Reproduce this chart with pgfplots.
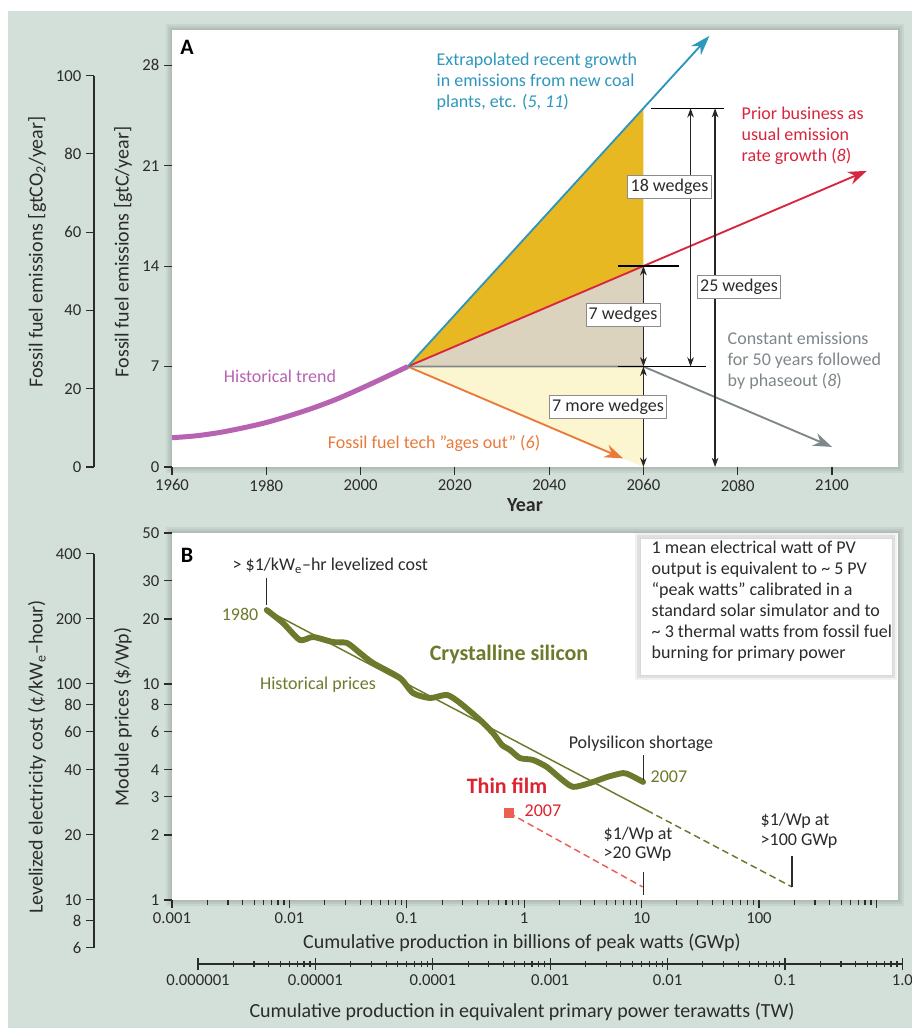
\documentclass[border=0pt]{standalone}
\usepackage{fontspec}
\setmainfont{Carlito}
\usepackage{pgfplots}
\pgfplotsset{compat=1.18}
\usetikzlibrary{arrows.meta}

\definecolor{bgc}{HTML}{D3E0DA}
\definecolor{ctext}{HTML}{2B2B2B}
\definecolor{cblue}{HTML}{2E97BD}
\definecolor{cred}{HTML}{D7263D}
\definecolor{cgray}{HTML}{7F878B}
\definecolor{corange}{HTML}{EA7A3C}
\definecolor{cpurple}{HTML}{B863B2}
\definecolor{cgold}{HTML}{E7B822}
\definecolor{cbeige}{HTML}{DCD3BF}
\definecolor{cpale}{HTML}{FCF6D0}
\definecolor{colive}{HTML}{6C7A2C}
\definecolor{cfilm}{HTML}{EC5F53}
\definecolor{cfilmtxt}{HTML}{DC2430}

\newcommand\ft{\fontsize{12.5}{14}\selectfont}
\newcommand\fa{\fontsize{13.5}{15}\selectfont}
\newcommand\fl{\fontsize{15}{17}\selectfont}
\newcommand\fb{\fontsize{16.5}{18}\selectfont\bfseries}

\pgfplotsset{
  every axis/.append style={
    tick label style={font=\ft, text=ctext},
    tick style={ctext, line width=0.8pt},
    major tick length=6pt, minor tick length=3.5pt},
  panel/.style={scale only axis, anchor=south west, axis line style={draw=none},
    tick align=outside, xtick pos=left, ytick pos=left,
    axis background/.style={fill=white,
      preaction={draw=black, opacity=0.05, line width=9pt},
      preaction={draw=black, opacity=0.05, line width=6pt},
      preaction={draw=black, opacity=0.06, line width=3pt}}},
  spine/.style={scale only axis, anchor=south west, tick align=outside,
    axis line style={ctext, line width=0.8pt, -}},
}
\tikzset{
  wbox/.style={draw=black!45, line width=0.7pt, fill=white, inner xsep=2pt, inner ysep=2.5pt, font=\fa, text=ctext},
  dim/.style={black, line width=0.9pt},
  dimarr/.style={black!85, line width=0.9pt, {Stealth[length=7pt,width=5pt]}-{Stealth[length=7pt,width=5pt]}},
  px/.style={x=0.75pt, y=-0.75pt},
}

\begin{document}
\begin{tikzpicture}
\begin{scope}[px]
\fill[white] (0,0) rectangle (912,1028);
\fill[bgc] (8,11) rectangle (912,1028);
\end{scope}

% ---------------- Panel A ----------------
\begin{axis}[panel, at={(129pt,-350.25pt)}, width=544.5pt, height=327.75pt,
  xmin=1960, xmax=2114, ymin=0, ymax=30.45,
  xtick={1960,1980,...,2100}, xticklabels={1960,1980,2000,2020,2040,2060,2080,2100},
  ytick={0,7,14,21,28}, yticklabels={0,7,14,21,28}]
\addplot[fill=cpale, draw=none] coordinates {(2010,7) (2060,7) (2060,0)} -- cycle;
\addplot[fill=cbeige, draw=none] coordinates {(2010,7) (2060,14) (2060,7)} -- cycle;
\addplot[fill=cgold, draw=none] coordinates {(2010,7) (2060,25) (2060,14)} -- cycle;
\addplot[cgray, line width=1.4pt, -{Stealth[length=14pt,width=10pt]}] coordinates {(2010,7) (2060,7) (2100,1.4)};
\addplot[corange, line width=1.4pt, -{Stealth[length=14pt,width=10pt]}] coordinates {(2010,7) (2055.7,0.6)};
\addplot[cred, line width=1.4pt, -{Stealth[length=14pt,width=10pt]}] coordinates {(2010,7) (2107.4,20.64)};
\addplot[cblue, line width=1.4pt, -{Stealth[length=15pt,width=10pt]}] coordinates {(2010,7) (2074,30.04)};
\addplot[cpurple, line width=3.75pt, smooth] coordinates {
  (1960,2.04) (1965,2.17) (1970,2.40) (1975,2.72) (1980,3.10) (1985,3.58)
  (1990,4.12) (1995,4.74) (2000,5.46) (2005,6.22) (2010,7.0)};
% wedge dimension lines
\draw[dim] (axis cs:2061.6,25) -- (axis cs:2077,25);
\draw[dim] (axis cs:2054.6,14) -- (axis cs:2067.5,14);
\draw[dim] (axis cs:2054.6,7) -- (axis cs:2073.3,7);
\draw[dimarr] (axis cs:2070,25) -- (axis cs:2070,7);
\draw[dimarr] (axis cs:2075.2,25) -- (axis cs:2075.2,0);
\draw[dimarr] (axis cs:2060,14) -- (axis cs:2060,7);
\draw[dimarr] (axis cs:2060,7) -- (axis cs:2060,0);
\end{axis}

% gtCO2 spine
\begin{axis}[spine, at={(70.5pt,-350.25pt)}, width=1pt, height=293.5pt,
  xmin=0, xmax=1, ymin=0, ymax=100, axis x line=none, axis y line*=left,
  ytick={0,20,...,100}, yticklabels={0,20,40,60,80,100}]
\end{axis}

% ---------------- Panel B ----------------
\begin{axis}[panel, at={(129pt,-675pt)}, width=544.5pt, height=275.25pt,
  xmode=log, ymode=log, xmin=0.001, xmax=1528, ymin=1, ymax=50,
  xtick={0.001,0.01,0.1,1,10,100,1000}, xticklabels={0.001,0.01,0.1,1,10,100,{}},
  minor xtick={0.002,0.003,0.004,0.005,0.006,0.007,0.008,0.009,
    0.02,0.03,0.04,0.05,0.06,0.07,0.08,0.09,0.2,0.3,0.4,0.5,0.6,0.7,0.8,0.9,
    2,3,4,5,6,7,8,9,20,30,40,50,60,70,80,90,200,300,400,500,600,700,800,900},
  ytick={1,2,3,4,6,8,10,20,30,50}, yticklabels={1,2,3,4,6,8,10,20,30,50}]
% learning-curve trend
\addplot[colive, line width=1.1pt] coordinates {(0.00641,22.0) (11.1,2.60)};
\addplot[colive, line width=1.1pt, dash pattern=on 5pt off 3pt] coordinates {(11.1,2.60) (191,1.15)};
% crystalline silicon history
\addplot[colive, line width=4.4pt, line join=round, line cap=round, smooth, tension=0.4] coordinates {
  (0.00641,22.0) (0.00882,19.16) (0.0123,15.98) (0.0159,16.51) (0.0235,15.64)
  (0.0310,15.48) (0.0399,13.92) (0.0515,12.51) (0.0875,10.66) (0.113,9.08)
  (0.158,8.61) (0.220,8.90) (0.284,8.17) (0.421,6.81) (0.542,5.93) (0.647,5.22)
  (0.757,4.95) (0.921,4.54) (1.19,4.45) (1.56,4.13) (2.02,3.67) (2.60,3.34)
  (3.63,3.48) (5.07,3.71) (6.94,3.87) (7.96,3.79) (10.3,3.52)};
% thin film
\addplot[cfilm, line width=1.1pt, dash pattern=on 5pt off 3pt] coordinates {(0.742,2.53) (10.2,1.15)};
\addplot[cfilm, only marks, mark=square*, mark size=3.4pt] coordinates {(0.742,2.53)};
% leader lines
\draw[ctext, line width=0.8pt] (axis cs:0.0064,31) -- (axis cs:0.0064,23.3);
\draw[ctext, line width=0.8pt] (axis cs:10.3,4.69) -- (axis cs:10.3,3.6);
\draw[ctext, line width=0.8pt] (axis cs:10.3,1.35) -- (axis cs:10.3,1.055);
\draw[ctext, line width=0.8pt] (axis cs:191,1.6) -- (axis cs:191,1.15);
\end{axis}

% levelized cost spine
\begin{axis}[spine, at={(70.5pt,-710.9pt)}, width=1pt, height=295.5pt,
  xmin=0, xmax=1, ymode=log, ymin=6, ymax=400, axis x line=none, axis y line*=left,
  ytick={6,8,10,20,40,60,80,100,200,400}, yticklabels={6,8,10,20,40,60,80,100,200,400}]
\end{axis}

% TW spine
\begin{axis}[spine, at={(148.5pt,-723pt)}, width=528.3pt, height=1pt, tick align=center,
  major tick length=9pt, minor tick length=5pt,
  xmode=log, xmin=1e-6, xmax=1, ymin=0, ymax=1, axis y line=none, axis x line*=bottom,
  xtick={1e-6,1e-5,1e-4,1e-3,1e-2,1e-1,1},
  xticklabels={0.000001,0.00001,0.0001,0.001,0.01,0.1,1.0},
  minor xtick={2e-6,3e-6,4e-6,5e-6,6e-6,7e-6,8e-6,9e-6,2e-5,3e-5,4e-5,5e-5,6e-5,7e-5,8e-5,9e-5,
    2e-4,3e-4,4e-4,5e-4,6e-4,7e-4,8e-4,9e-4,2e-3,3e-3,4e-3,5e-3,6e-3,7e-3,8e-3,9e-3,
    2e-2,3e-2,4e-2,5e-2,6e-2,7e-2,8e-2,9e-2,0.2,0.3,0.4,0.5,0.6,0.7,0.8,0.9}]
\end{axis}

\begin{scope}[px]
% ---------------- annotations A ----------------
\node[font=\fb, text=black] at (187,47) {A};
\begin{scope}[every node/.style={font=\fa, anchor=mid west}]
\node[text=cblue] at (432,62) {Extrapolated recent growth};
\node[text=cblue] at (432,83) {in emissions from new coal};
\node[text=cblue] at (432,104) {plants, etc. (\textit{5}, \textit{11})};
\node[text=cred] at (737,116) {Prior business as};
\node[text=cred] at (737,137) {usual emission};
\node[text=cred] at (737,158) {rate growth (\textit{8})};
\node[text=cgray] at (723,341) {Constant emissions};
\node[text=cgray] at (723,362) {for 50 years followed};
\node[text=cgray] at (723,383) {by phaseout (\textit{8})};
\node[text=cpurple, anchor=mid] at (280,379) {Historical trend};
\node[text=corange, anchor=mid] at (434,445) {Fossil fuel tech ”ages out” (\textit{6})};
\end{scope}
\node[wbox] at (669.5,187) {18 wedges};
\node[wbox] at (739,287) {25 wedges};
\node[wbox] at (623,315) {7 wedges};
\node[wbox] at (608,407) {7 more wedges};
\node[font=\fl, text=ctext, rotate=90] at (37,252) {Fossil fuel emissions [gtCO\textsubscript{2}/year]};
\node[font=\fl, text=ctext, rotate=90] at (123,252) {Fossil fuel emissions [gtC/year]};
\node[font=\fl\bfseries, text=ctext] at (525,505) {Year};

% ---------------- annotations B ----------------
\node[font=\fb, text=black] at (187,555) {B};
\begin{scope}[every node/.style={font=\fa, anchor=mid west, text=ctext}]
\node at (228,567) {> \$1/kW\textsubscript{e}–hr levelized cost};
\node[text=colive, anchor=mid east] at (263,617) {1980};
\node[text=colive, anchor=mid] at (318,686) {Historical prices};
\node[text=colive, anchor=mid, font=\fb] at (509,657) {Crystalline silicon};
\node[anchor=mid] at (641,745) {Polysilicon shortage};
\node[text=colive] at (646,779) {2007};
\node[text=cfilmtxt, anchor=mid, font=\fb] at (507,790) {Thin film};
\node[text=cfilmtxt] at (520,813) {2007};
\node at (599,836) {\$1/Wp at};
\node at (599,855) {>20 GWp};
\node at (756,822) {\$1/Wp at};
\node at (756,842) {>100 GWp};
\end{scope}
\path[fill=white, draw=black!15, line width=0.6pt,
  preaction={draw=black, opacity=0.05, line width=8pt},
  preaction={draw=black, opacity=0.07, line width=4pt}] (640,538) rectangle (892,675);
\begin{scope}[every node/.style={font=\fa, anchor=mid west, text=ctext}]
\node at (647,550) {1 mean electrical watt of PV};
\node at (647,571) {output is equivalent to \textasciitilde{} 5 PV};
\node at (647,592) {``peak watts'' calibrated in a};
\node at (647,613) {standard solar simulator and to};
\node at (647,634) {\textasciitilde{} 3 thermal watts from fossil fuel};
\node at (647,655) {burning for primary power};
\end{scope}
\node[font=\fl, text=ctext, rotate=90] at (37,757) {Levelized electricity cost (¢/kW\textsubscript{e}–hour)};
\node[font=\fl, text=ctext, rotate=90] at (123,717) {Module prices (\$/Wp)};
\node[font=\fl, text=ctext] at (522,943) {Cumulative production in billions of peak watts (GWp)};
\node[font=\fl, text=ctext] at (522,1012) {Cumulative production in equivalent primary power terawatts (TW)};
\end{scope}

\pgfresetboundingbox
\useasboundingbox (0,0) rectangle (684pt,-771pt);
\end{tikzpicture}
\end{document}
